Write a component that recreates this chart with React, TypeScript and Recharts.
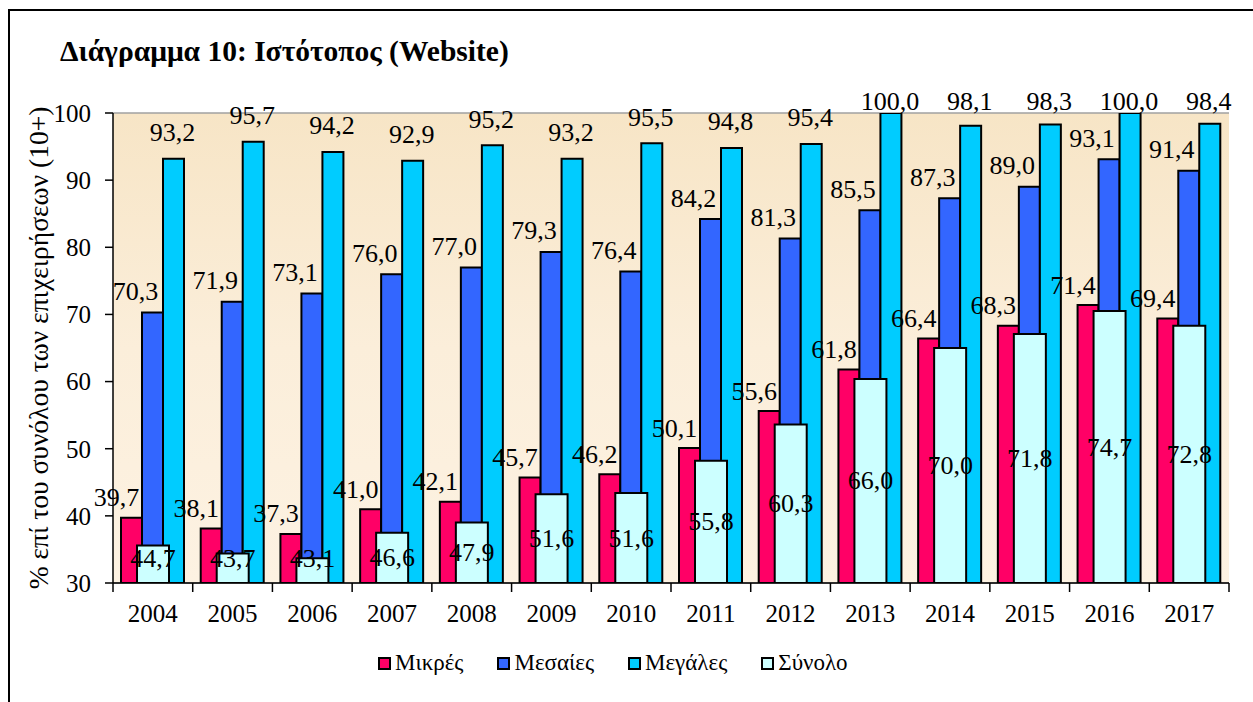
import { Bar, BarChart, CartesianGrid, LabelList, XAxis, YAxis } from "recharts"

const years = ["2004", "2005", "2006", "2007", "2008", "2009", "2010", "2011", "2012", "2013", "2014", "2015", "2016", "2017"]
const small = [39.7, 38.1, 37.3, 41.0, 42.1, 45.7, 46.2, 50.1, 55.6, 61.8, 66.4, 68.3, 71.4, 69.4]
const medium = [70.3, 71.9, 73.1, 76.0, 77.0, 79.3, 76.4, 84.2, 81.3, 85.5, 87.3, 89.0, 93.1, 91.4]
const large = [93.2, 95.7, 94.2, 92.9, 95.2, 93.2, 95.5, 94.8, 95.4, 100.0, 98.1, 98.3, 100.0, 98.4]
// the "Σύνολο" bars in the picture are drawn lower than their printed labels
const totalBars = [35.6, 34.4, 33.7, 37.5, 39.0, 43.2, 43.4, 48.2, 53.6, 60.4, 65.0, 67.1, 70.5, 68.3]
const totalLabels = [44.7, 43.7, 43.1, 46.6, 47.9, 51.6, 51.6, 55.8, 60.3, 66.0, 70.0, 71.8, 74.7, 72.8]
const yTicks = [30, 40, 50, 60, 70, 80, 90, 100]

const SERIES = [
  { key: "small", name: "Μικρές", color: "#FF0066" },
  { key: "medium", name: "Μεσαίες", color: "#3366FF" },
  { key: "large", name: "Μεγάλες", color: "#00CCFF" },
  { key: "total", name: "Σύνολο", color: "#CCFFFF" },
]

const data = years.map((year, i) => ({
  year,
  small: small[i],
  medium: medium[i],
  large: large[i],
  total: totalBars[i],
}))

const W = 1253
const H = 702
const PLOT_LEFT = 113
const PLOT_RIGHT = 1229
const PLOT_TOP = 113
const PLOT_BOTTOM = 583
const BAND = (PLOT_RIGHT - PLOT_LEFT) / years.length
const FONT = "'Liberation Serif', 'Times New Roman', serif"
const labelStyle = { fontFamily: FONT, fontSize: 26, fill: "#000" }

const fmt = (v: number) => v.toFixed(1).replace(".", ",")

function aboveLabel(dx: number, lift: number, minY = 0) {
  return (p: any) => {
    const cx = Number(p.x) + Number(p.width) / 2 + dx
    const cy = Math.max(Number(p.y) - lift, minY)
    return (
      <text x={cx} y={cy} textAnchor="middle" dominantBaseline="central" style={labelStyle}>
        {fmt(Number(p.value))}
      </text>
    )
  }
}

function totalLabel(p: any) {
  const cx = Number(p.x) + Number(p.width) / 2
  const top = Number(p.y)
  const h = Number(p.height)
  const cy = Math.min(top + h / 2, top + h - 25)
  return (
    <text x={cx} y={cy} textAnchor="middle" dominantBaseline="central" style={labelStyle}>
      {fmt(totalLabels[p.index])}
    </text>
  )
}

function YearTick(props: any) {
  const { x, payload, index } = props
  const half = BAND / 2
  return (
    <g>
      <line x1={x - half} x2={x - half} y1={PLOT_BOTTOM} y2={PLOT_BOTTOM + 9} stroke="#000" strokeWidth={1.5} />
      {index === years.length - 1 && (
        <line x1={x + half} x2={x + half} y1={PLOT_BOTTOM} y2={PLOT_BOTTOM + 9} stroke="#000" strokeWidth={1.5} />
      )}
      <text x={x} y={PLOT_BOTTOM + 30} textAnchor="middle" dominantBaseline="central" style={{ fontFamily: FONT, fontSize: 25, fill: "#000" }}>
        {payload.value}
      </text>
    </g>
  )
}

export default function App() {
  return (
    <div style={{ position: "relative", width: W, height: H, overflow: "hidden", background: "#fff" }}>
      <style>{"body{margin:0;overflow:hidden}"}</style>
      <div
        style={{
          position: "absolute",
          left: 8,
          top: 9,
          width: 1400,
          height: 1000,
          border: "2px solid #000",
          boxSizing: "border-box",
        }}
      />
      <div
        style={{
          position: "absolute",
          left: 60,
          top: 35,
          fontFamily: FONT,
          fontWeight: "bold",
          fontSize: 29.5,
          color: "#000",
          whiteSpace: "nowrap",
        }}
      >
        Διάγραμμα 10: Ιστότοπος (Website)
      </div>
      <div style={{ position: "absolute", left: 0, top: 0 }}>
        <BarChart
          width={W}
          height={H}
          data={data}
          margin={{ top: PLOT_TOP, right: W - PLOT_RIGHT, left: 0, bottom: H - PLOT_BOTTOM - 30 }}
          barGap={0}
        >
          <defs>
            <linearGradient id="parchment" x1="0" y1="0" x2="0" y2="1">
              <stop offset="0%" stopColor="#F7E5C6" />
              <stop offset="50%" stopColor="#FBEEDA" />
              <stop offset="100%" stopColor="#FDF2E2" />
            </linearGradient>
          </defs>
          <CartesianGrid vertical={false} stroke="#A0A0A0" strokeWidth={1.5} fill="url(#parchment)" fillOpacity={1} />
          <XAxis
            xAxisId="main"
            dataKey="year"
            height={30}
            axisLine={{ stroke: "#000", strokeWidth: 1.5 }}
            tickLine={false}
            tick={YearTick}
            interval={0}
          />
          <XAxis xAxisId="total" dataKey="year" hide height={0} />
          <YAxis
            yAxisId="left"
            width={PLOT_LEFT}
            domain={[30, 100]}
            ticks={yTicks}
            allowDataOverflow
            axisLine={{ stroke: "#000", strokeWidth: 1.5 }}
            tickLine={{ stroke: "#000", strokeWidth: 1.5 }}
            tickSize={8}
            tickMargin={14}
            tick={{ fontFamily: FONT, fontSize: 25, fill: "#000" }}
            label={{
              value: "% επί του συνόλου των επιχειρήσεων (10+)",
              angle: -90,
              position: "insideLeft",
              offset: 38,
              style: { textAnchor: "middle", fontFamily: FONT, fontSize: 27.5, fill: "#000" },
            }}
          />
          <YAxis
            yAxisId="right"
            orientation="right"
            width={0}
            domain={[30, 100]}
            ticks={yTicks}
            tick={false}
            tickLine={false}
            axisLine={{ stroke: "#A0A0A0", strokeWidth: 1.5 }}
          />
          <Bar xAxisId="main" yAxisId="left" dataKey="small" name="Μικρές" fill={SERIES[0].color} stroke="#000" strokeWidth={2} barSize={21} isAnimationActive={false}>
            <LabelList dataKey="small" content={aboveLabel(-15, 20)} />
          </Bar>
          <Bar xAxisId="main" yAxisId="left" dataKey="medium" name="Μεσαίες" fill={SERIES[1].color} stroke="#000" strokeWidth={2} barSize={21} isAnimationActive={false}>
            <LabelList dataKey="medium" content={aboveLabel(-17, 21)} />
          </Bar>
          <Bar xAxisId="main" yAxisId="left" dataKey="large" name="Μεγάλες" fill={SERIES[2].color} stroke="#000" strokeWidth={2} barSize={21} isAnimationActive={false}>
            <LabelList dataKey="large" content={aboveLabel(-1, 26, 101)} />
          </Bar>
          <Bar xAxisId="total" yAxisId="left" dataKey="total" name="Σύνολο" fill={SERIES[3].color} stroke="#000" strokeWidth={2} barSize={32} isAnimationActive={false}>
            <LabelList dataKey="total" content={totalLabel} />
          </Bar>
        </BarChart>
      </div>
      <div
        style={{
          position: "absolute",
          left: 378,
          top: 650,
          display: "flex",
          alignItems: "center",
          gap: 34,
          fontFamily: FONT,
          fontSize: 23,
          color: "#000",
          whiteSpace: "nowrap",
        }}
      >
        {SERIES.map((s) => (
          <div key={s.key} style={{ display: "flex", alignItems: "center" }}>
            <span
              style={{
                display: "inline-block",
                width: 13,
                height: 13,
                boxSizing: "border-box",
                border: "2px solid #000",
                background: s.color,
                marginRight: 4,
              }}
            />
            <span>{s.name}</span>
          </div>
        ))}
      </div>
    </div>
  )
}
